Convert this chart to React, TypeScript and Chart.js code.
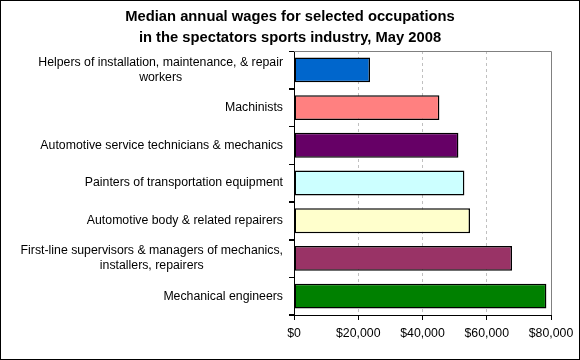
import React, { useEffect, useRef } from "react";
import { Chart, registerables } from "chart.js";

Chart.register(...registerables);

const titleLines = [
  "Median annual wages for selected occupations",
  "in the spectators sports industry, May 2008",
];

const categories: string[][] = [
  ["Helpers of installation, maintenance, & repair", "workers"],
  ["Machinists"],
  ["Automotive service technicians & mechanics"],
  ["Painters of transportation equipment"],
  ["Automotive body & related repairers"],
  ["First-line supervisors & managers of mechanics,", "installers, repairers"],
  ["Mechanical engineers"],
];

const wages = [23660, 45260, 51180, 53040, 54790, 67860, 78570];

const barColors = [
  "#0066CC",
  "#FF8080",
  "#660066",
  "#CCFFFF",
  "#FFFFCC",
  "#993366",
  "#008000",
];

const xTicks = [0, 20000, 40000, 60000, 80000];

const FONT = "'Liberation Sans', Arial, sans-serif";

const framePlugin = {
  id: "frame",
  afterDraw(chart: any) {
    const { ctx, chartArea, width, height } = chart;
    const yScale = chart.scales.y;
    ctx.save();
    // title
    ctx.fillStyle = "#000";
    ctx.font = `bold 14.75px ${FONT}`;
    ctx.textAlign = "center";
    ctx.textBaseline = "middle";
    titleLines.forEach((t, i) => ctx.fillText(t, width / 2, 17 + i * 21));
    // plot frame top & right (gray)
    ctx.strokeStyle = "#808080";
    ctx.lineWidth = 1;
    ctx.beginPath();
    ctx.moveTo(chartArea.left, Math.round(chartArea.top) + 0.5);
    ctx.lineTo(Math.round(chartArea.right) + 0.5, Math.round(chartArea.top) + 0.5);
    ctx.lineTo(Math.round(chartArea.right) + 0.5, chartArea.bottom);
    ctx.stroke();
    // y category boundary tick marks
    ctx.strokeStyle = "#000";
    const n = chart.data.labels.length;
    const step = (chartArea.bottom - chartArea.top) / n;
    ctx.beginPath();
    for (let i = 0; i <= n; i++) {
      const y = Math.round(chartArea.top + i * step) + 0.5;
      ctx.moveTo(chartArea.left - 5, y);
      ctx.lineTo(chartArea.left, y);
    }
    ctx.stroke();
    // outer border
    ctx.strokeRect(0.5, 0.5, width - 1, height - 1);
    // category labels
    ctx.font = `12.3px ${FONT}`;
    const rightEdge = yScale.right - 11;
    const lineH = 15;
    (chart.data.labels as string[][]).forEach((lines, i) => {
      const yc = yScale.getPixelForValue(i);
      const w = Math.max(...lines.map((l) => ctx.measureText(l).width));
      const cx = rightEdge - w / 2;
      const y0 = yc - ((lines.length - 1) * lineH) / 2;
      lines.forEach((l, j) => ctx.fillText(l, cx, y0 + j * lineH));
    });
    ctx.restore();
  },
};

export default function App() {
  const ref = useRef<HTMLCanvasElement>(null);
  useEffect(() => {
    document.body.style.margin = "0";
    const chart = new Chart(ref.current!, {
      type: "bar",
      data: {
        labels: categories,
        datasets: [
          {
            data: wages,
            backgroundColor: barColors,
            borderColor: "#000",
            borderWidth: 1.5,
            borderSkipped: false,
            barPercentage: 0.66,
            categoryPercentage: 1,
          },
        ],
      },
      options: {
        indexAxis: "y",
        animation: false,
        responsive: false,
        layout: { padding: { left: 0, right: 29, top: 51, bottom: 0 } },
        plugins: {
          legend: { display: false },
          tooltip: { enabled: false },
          title: { display: false },
        },
        scales: {
          x: {
            min: 0,
            max: 80000,
            afterBuildTicks: (scale: any) => {
              scale.ticks = xTicks.map((v) => ({ value: v }));
            },
            afterFit: (scale: any) => {
              scale.height = 45;
            },
            ticks: {
              color: "#000",
              font: { family: FONT, size: 12.3 },
              padding: 6,
              maxRotation: 0,
              callback: (v: any) => "$" + Number(v).toLocaleString("en-US"),
            },
            grid: {
              color: (c: any) =>
                c.tick && c.tick.value > 0 && c.tick.value < 80000
                  ? "#c0c0c0"
                  : "rgba(0,0,0,0)",
              tickColor: "#000",
              tickLength: 5,
              lineWidth: 1,
            },
            border: { color: "#000", width: 1, dash: [3, 3] },
          },
          y: {
            afterFit: (scale: any) => {
              scale.width = 294;
            },
            ticks: { display: false },
            grid: {
              drawOnChartArea: false,
              color: "#000",
              tickColor: "#000",
              tickLength: 5,
              offset: true,
            },
            border: { color: "#000", width: 1 },
          },
        },
      },
      plugins: [framePlugin],
    });
    return () => chart.destroy();
  }, []);
  return <canvas ref={ref} width={580} height={360} style={{ display: "block" }} />;
}
